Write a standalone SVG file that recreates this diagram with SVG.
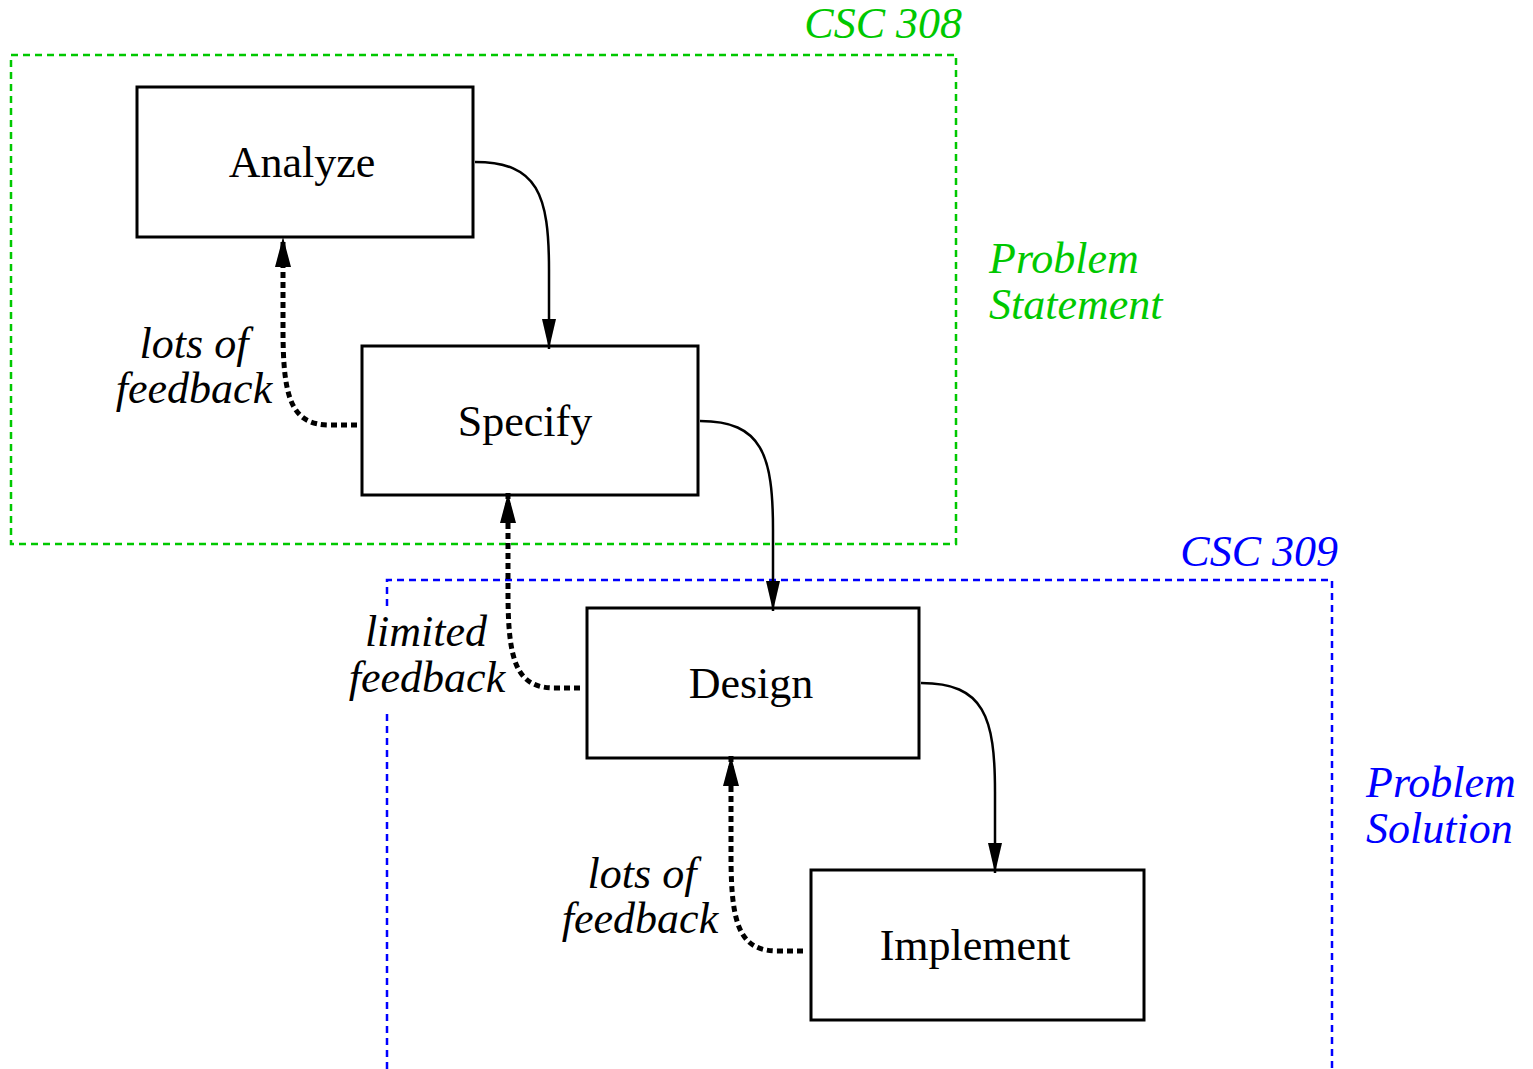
<svg xmlns="http://www.w3.org/2000/svg" width="1533" height="1069" viewBox="0 0 1533 1069">
  <style>
    .frame { fill: none; stroke-width: 2.5; stroke-dasharray: 7 5; }
    .green { stroke: #00c800; }
    .blue { stroke: #0000ff; }
    .box { fill: #ffffff; stroke: #000000; stroke-width: 3; }
    .node-label { font-family: "Liberation Serif", "Times New Roman", serif; font-size: 44px; fill: #000000; text-anchor: middle; }
    .note { font-family: "Liberation Serif", "Times New Roman", serif; font-size: 44px; font-style: italic; }
    .flow { fill: none; stroke: #000000; stroke-width: 2.5; }
    .feedback { fill: none; stroke: #000000; stroke-width: 5; stroke-dasharray: 6 4; }
  </style>
  <defs>
    <!-- arrowheads: x runs along the line, so width = head length, height = head breadth -->
    <marker id="solid-head" markerUnits="userSpaceOnUse" markerWidth="30" markerHeight="16" viewBox="0 0 30 16" refX="30" refY="8" orient="auto">
      <path d="M0,1 L30,8 L0,15 Z" fill="#000000"/>
    </marker>
    <marker id="feedback-head" markerUnits="userSpaceOnUse" markerWidth="30" markerHeight="18" viewBox="0 0 30 18" refX="30" refY="9" orient="auto">
      <path d="M0,1 L30,9 L0,17 Z" fill="#000000"/>
    </marker>
  </defs>

  <rect width="1533" height="1069" fill="#ffffff"/>

  <!-- course frames -->
  <g id="csc308">
    <rect class="frame green" x="11" y="55" width="945" height="489"/>
    <text class="note" x="962" y="38" fill="#00c800" text-anchor="end">CSC 308</text>
    <text class="note" x="989" y="273" fill="#00c800">Problem</text>
    <text class="note" x="989" y="319" fill="#00c800">Statement</text>
  </g>
  <g id="csc309">
    <path class="frame blue" d="M387,1069 V712 M387,606 V580 H1332 V1069"/>
    <text class="note" x="1338" y="566" fill="#0000ff" text-anchor="end">CSC 309</text>
    <text class="note" x="1366" y="797" fill="#0000ff">Problem</text>
    <text class="note" x="1366" y="843" fill="#0000ff">Solution</text>
  </g>

  <!-- process steps -->
  <g id="analyze">
    <rect class="box" x="137" y="87" width="336" height="150"/>
    <text class="node-label" x="302" y="177">Analyze</text>
  </g>
  <g id="specify">
    <rect class="box" x="362" y="346" width="336" height="149"/>
    <text class="node-label" x="525" y="436">Specify</text>
  </g>
  <g id="design">
    <rect class="box" x="587" y="608" width="332" height="150"/>
    <text class="node-label" x="751" y="698">Design</text>
  </g>
  <g id="implement">
    <rect class="box" x="811" y="870" width="333" height="150"/>
    <text class="node-label" x="975" y="960">Implement</text>
  </g>

  <!-- connectors -->
  <g id="connectors">
    <path class="flow" d="M475,162 C538,162 549,195 549,270 V349" marker-end="url(#solid-head)"/>
    <path class="flow" d="M700,421 C762,421 773,455 773,530 V611" marker-end="url(#solid-head)"/>
    <path class="flow" d="M921,683 C984,683 995,717 995,792 V873" marker-end="url(#solid-head)"/>

    <path class="feedback" d="M357,425 H330 C292,425 283,400 283,330 V237" marker-end="url(#feedback-head)"/>
    <path class="feedback" d="M580,688 H555 C517,688 508,663 508,593 V493" marker-end="url(#feedback-head)"/>
    <path class="feedback" d="M803,951 H778 C740,951 731,926 731,856 V756" marker-end="url(#feedback-head)"/>

    <text class="note" x="194" y="358" text-anchor="middle">lots of</text>
    <text class="note" x="194" y="403" text-anchor="middle">feedback</text>
    <text class="note" x="426" y="646" text-anchor="middle">limited</text>
    <text class="note" x="427" y="692" text-anchor="middle">feedback</text>
    <text class="note" x="642" y="888" text-anchor="middle">lots of</text>
    <text class="note" x="640" y="933" text-anchor="middle">feedback</text>
  </g>
</svg>
